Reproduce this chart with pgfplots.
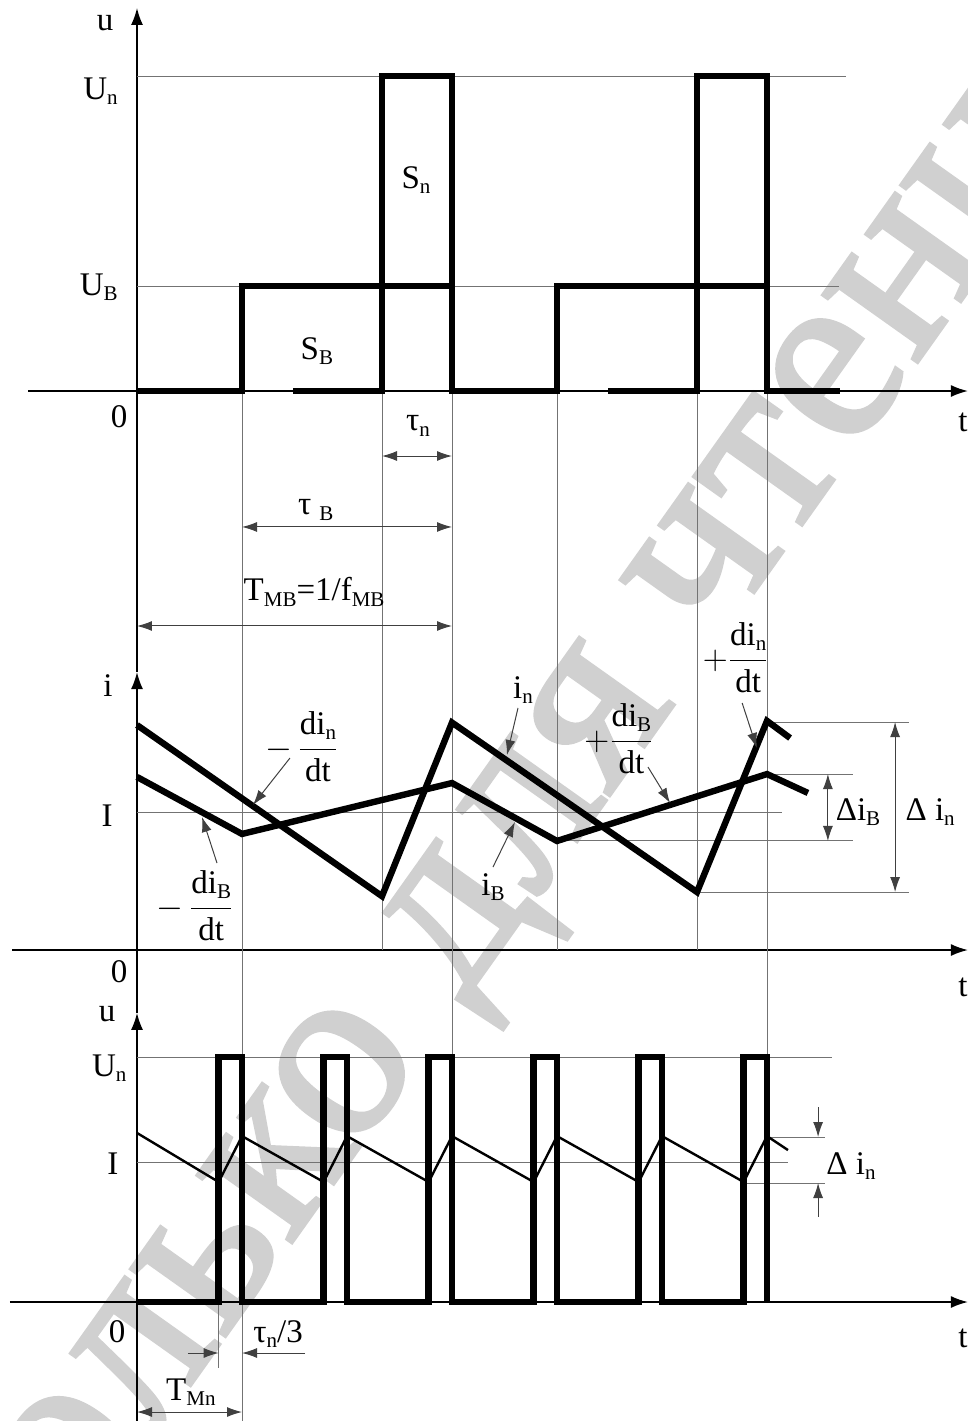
\documentclass[border=0pt]{standalone}
\usepackage{fontspec}
\setmainfont{Liberation Serif}
\newfontfamily\wmfont{Liberation Serif}[FakeBold=1.6]
\usepackage{amsmath}
\usepackage{pgfplots}
\pgfplotsset{compat=1.18}
\usetikzlibrary{arrows.meta}

\definecolor{wm}{RGB}{208,208,208}
\definecolor{refgray}{RGB}{115,115,115}

% subscript, label font and d/dt fractions
\newcommand\sub[1]{\raisebox{-2.6pt}{\fontsize{10.5}{11}\selectfont #1}}
\newcommand\lbl{\fontsize{16.5}{18}\selectfont}
\newcommand\frc[1]{\ensuremath{\dfrac{\text{#1}}{\text{dt}}}}

\tikzset{
  wave/.style={black, line width=3.2pt, line join=miter, line cap=butt},
  thinwave/.style={black, line width=1.2pt, line join=miter},
  ref/.style={refgray, line width=0.5pt},
  dim/.style={black!75, line width=0.5pt,
    {Latex[length=7.5pt,width=5pt]}-{Latex[length=7.5pt,width=5pt]}},
  lead/.style={black!75, line width=0.5pt, -{Latex[length=7.5pt,width=5pt]}},
  lab/.style={font=\lbl, inner sep=0pt},
}
\pgfplotsset{
  panel/.style={
    axis lines=middle, ticks=none, clip=false, anchor=origin, x=17.5pt,
    axis line style={black, line width=0.8pt, -{Latex[length=8.5pt,width=6pt]}},
  },
}

\begin{document}
\begin{tikzpicture}
\path[use as bounding box] (0,0) rectangle (484pt,-710.5pt);
\clip (0,0) rectangle (484pt,-710.5pt);
\begin{scope}[x=0.5pt,y=-0.5pt]
  \node[rotate=54.6, anchor=center, text=wm, inner sep=0pt,
        font=\wmfont\fontsize{126}{126}\selectfont] at (522,818) {Только для чтения};
  \coordinate (O1) at (137,391);
  \coordinate (O2) at (137,950);
  \coordinate (O3) at (137,1302);
\end{scope}

% ---------- voltage of the two channels ----------
\begin{axis}[panel, at={(O1)}, y=52.5pt,
  xmin=-3.11, xmax=23.74, ymin=-2.676, ymax=3.648]
  \addplot[ref] coordinates {(0,3) (20.26,3)};
  \addplot[ref] coordinates {(0,1) (20.06,1)};
  \addplot[ref] coordinates {(3,0) (3,-2.676)};
  \addplot[ref] coordinates {(7,0) (7,-2.676)};
  \addplot[ref] coordinates {(9,0) (9,-2.676)};
  \addplot[ref] coordinates {(12,0) (12,-2.676)};
  \addplot[ref] coordinates {(16,0) (16,-2.676)};
  \addplot[ref] coordinates {(18,0) (18,-2.676)};
  % u_B
  \addplot[wave] coordinates {(0,0) (3,0) (3,1) (9,1) (9,0) (12,0) (12,1) (18,1) (18,0) (20.09,0)};
  % u_n
  \addplot[wave] coordinates {(4.46,0) (7,0) (7,3) (9,3) (9,0)};
  \addplot[wave] coordinates {(13.46,0) (16,0) (16,3) (18,3) (18,0)};
  % dimensions
  \draw[dim] (axis cs:7,-0.619) -- (axis cs:9,-0.619);
  \draw[dim] (axis cs:3,-1.295) -- (axis cs:9,-1.295);
  \draw[dim] (axis cs:0,-2.238) -- (axis cs:9,-2.238);
  % labels
  \node[lab] at (axis cs:-0.914,3.5) {u};
  \node[lab, anchor=east] at (axis cs:-0.54,2.857) {U\sub{n}};
  \node[lab, anchor=east] at (axis cs:-0.54,0.99) {U\sub{B}};
  \node[lab] at (axis cs:-0.514,-0.248) {0};
  \node[lab] at (axis cs:23.6,-0.295) {t};
  \node[lab] at (axis cs:7.97,2.01) {S\sub{n}};
  \node[lab] at (axis cs:5.14,0.381) {S\sub{B}};
  \node[lab] at (axis cs:8.03,-0.333) {τ\sub{n}};
  \node[lab] at (axis cs:5.11,-1.133) {τ\hspace{4pt}\sub{B}};
  \node[lab] at (axis cs:5.06,-1.914) {T\sub{MB}=1/f\sub{MB}};
\end{axis}

% ---------- currents of the two channels ----------
\begin{axis}[panel, at={(O2)}, y=69pt,
  xmin=-3.57, xmax=23.74, ymin=-0.457, ymax=2.014]
  \addplot[ref] coordinates {(0,1) (18.43,1)};
  \addplot[ref] coordinates {(18,1.275) (20.46,1.275)};
  \addplot[ref] coordinates {(12,0.790) (20.46,0.790)};
  \addplot[ref] coordinates {(18,1.652) (22.06,1.652)};
  \addplot[ref] coordinates {(16,0.420) (22.06,0.420)};
  \addplot[ref] coordinates {(3,2.014) (3,-0.457)};
  \addplot[ref] coordinates {(7,2.014) (7,0)};
  \addplot[ref] coordinates {(9,2.014) (9,-0.457)};
  \addplot[ref] coordinates {(12,2.014) (12,0)};
  \addplot[ref] coordinates {(16,2.014) (16,0)};
  \addplot[ref] coordinates {(18,2.014) (18,-0.457)};
  % i_n
  \addplot[wave] coordinates {(0,1.630) (7,0.390) (9,1.648) (16,0.420) (18,1.660) (18.66,1.536)};
  % i_B
  \addplot[wave] coordinates {(0,1.254) (3,0.841) (9,1.210) (12,0.790) (18,1.275) (19.17,1.138)};
  % ripple dimensions
  \draw[dim] (axis cs:19.74,1.275) -- (axis cs:19.74,0.790);
  \draw[dim] (axis cs:21.66,1.652) -- (axis cs:21.66,0.420);
  % leaders
  \draw[lead] (axis cs:4.37,1.391) -- (axis cs:3.314,1.051);
  \draw[lead] (axis cs:2.286,0.630) -- (axis cs:1.857,0.964);
  \draw[lead] (axis cs:10.886,1.754) -- (axis cs:10.57,1.413);
  \draw[lead] (axis cs:10.17,0.601) -- (axis cs:10.8,0.928);
  \draw[lead] (axis cs:14.6,1.326) -- (axis cs:15.23,1.065);
  \draw[lead] (axis cs:17.29,1.790) -- (axis cs:17.71,1.464);
  % labels
  \node[lab] at (axis cs:-0.83,1.913) {i};
  \node[lab] at (axis cs:-0.857,0.971) {I};
  \node[lab] at (axis cs:-0.514,-0.159) {0};
  \node[lab] at (axis cs:23.6,-0.268) {t};
  \node[lab] at (axis cs:11.03,1.884) {i\sub{n}};
  \node[lab] at (axis cs:10.17,0.457) {i\sub{B}};
  \node[lab] at (axis cs:4.71,1.471) {$-$\,\frc{di\sub{n}}};
  \node[lab] at (axis cs:1.657,0.319) {$-$\,\frc{di\sub{B}}};
  \node[lab] at (axis cs:13.77,1.529) {$+$\frc{di\sub{B}}};
  \node[lab] at (axis cs:17.11,2.116) {$+$\frc{di\sub{n}}};
  \node[lab] at (axis cs:20.6,1.0) {Δi\sub{B}};
  \node[lab] at (axis cs:22.66,1.0) {Δ i\sub{n}};
\end{axis}

% ---------- three-phase interleaved pulses ----------
\begin{axis}[panel, at={(O3)}, y=17.5pt,
  xmin=-3.63, xmax=23.74, ymin=-3.4, ymax=8.26]
  \addplot[ref] coordinates {(0,7) (19.86,7)};
  \addplot[ref] coordinates {(0,4) (18.6,4)};
  \addplot[ref] coordinates {(9,8.26) (9,7)};
  \addplot[ref] coordinates {(18,8.26) (18,7)};
  \addplot[ref] coordinates {(3,8.26) (3,-3.4)};
  \addplot[ref] coordinates {(2.333,0) (2.333,-1.886)};
  \addplot[ref] coordinates {(18.09,4.714) (19.66,4.714)};
  \addplot[ref] coordinates {(17.31,3.4) (19.66,3.4)};
  % voltage pulses
  \addplot[wave] coordinates {(0,0) (2.333,0) (2.333,7) (3,7) (3,0)
    (5.333,0) (5.333,7) (6,7) (6,0) (8.333,0) (8.333,7) (9,7) (9,0)
    (11.333,0) (11.333,7) (12,7) (12,0) (14.333,0) (14.333,7) (15,7) (15,0)
    (17.333,0) (17.333,7) (18,7) (18,0)};
  % current
  \addplot[thinwave] coordinates {(0,4.83) (2.333,3.43) (3,4.74) (5.333,3.43) (6,4.74)
    (8.333,3.43) (9,4.74) (11.333,3.43) (12,4.74) (14.333,3.43) (15,4.74)
    (17.333,3.43) (18,4.74) (18.6,4.34)};
  % dimensions
  \draw[lead] (axis cs:1.457,-1.457) -- (axis cs:2.333,-1.457);
  \draw[lead] (axis cs:4.8,-1.457) -- (axis cs:3,-1.457);
  \draw[dim] (axis cs:0,-3.143) -- (axis cs:3,-3.143);
  \draw[lead] (axis cs:19.46,5.571) -- (axis cs:19.46,4.714);
  \draw[lead] (axis cs:19.46,2.429) -- (axis cs:19.46,3.4);
  % labels
  \node[lab] at (axis cs:-0.857,8.24) {u};
  \node[lab, anchor=east] at (axis cs:-0.29,6.686) {U\sub{n}};
  \node[lab] at (axis cs:-0.686,3.94) {I};
  \node[lab] at (axis cs:-0.571,-0.857) {0};
  \node[lab] at (axis cs:23.6,-1.03) {t};
  \node[lab] at (axis cs:4.03,-0.914) {τ\sub{n}/3};
  \node[lab] at (axis cs:1.54,-2.571) {T\sub{Mn}};
  \node[lab] at (axis cs:20.4,3.886) {Δ i\sub{n}};
\end{axis}
\end{tikzpicture}
\end{document}
